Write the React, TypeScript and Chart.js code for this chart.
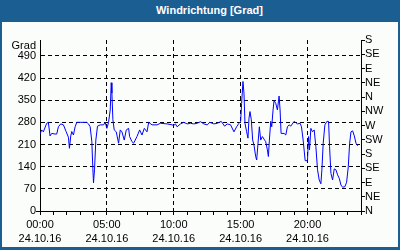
import React, { useEffect, useRef } from 'react';
import { Chart, registerables } from 'chart.js';

Chart.register(...registerables);

const chartTitle = 'Windrichtung [Grad]';
const unitLabel = 'Grad';
const dateLabel = '24.10.16';
const timeLabels = ['00:00', '05:00', '10:00', '15:00', '20:00'];
const compassLabels = ['N', 'NE', 'E', 'SE', 'S', 'SW', 'W', 'NW', 'N', 'NE', 'E', 'SE', 'S'];

const hours = [
  0.0, 0.125, 0.25, 0.5, 0.625, 0.75, 0.875, 1.125, 1.25, 1.375, 1.55, 1.75, 1.95, 2.125, 2.2, 2.3,
  2.375, 2.5, 2.625, 2.75, 3.0, 3.5, 3.625, 3.75, 3.875, 3.95, 4.0, 4.075, 4.175, 4.3, 4.5, 4.75,
  4.875, 5.0, 5.125, 5.25, 5.325, 5.375, 5.45, 5.55, 5.7, 5.875, 6.0, 6.125, 6.3, 6.45, 6.625, 6.7,
  6.875, 7.0, 7.25, 7.45, 7.625, 7.8, 8.0, 8.125, 8.375, 8.75, 9.0, 9.5, 9.875, 10.0, 10.125, 10.25,
  10.5, 10.75, 11.0, 11.25, 11.5, 11.75, 12.0, 12.25, 12.5, 12.7, 13.0, 13.25, 13.55, 13.8, 14.0,
  14.25, 14.5, 14.7, 14.875, 15.0, 15.075, 15.175, 15.25, 15.325, 15.45, 15.55, 15.625, 15.7, 15.8,
  15.9, 16.0, 16.125, 16.2, 16.3, 16.4, 16.5, 16.625, 16.75, 16.875, 17.0, 17.075, 17.15, 17.25,
  17.325, 17.425, 17.5, 17.625, 17.75, 17.875, 17.95, 18.025, 18.25, 18.375, 18.5, 18.625, 18.75,
  19.0, 19.25, 19.45, 19.55, 19.675, 19.825, 20.0, 20.075, 20.15, 20.25, 20.375, 20.5, 20.625,
  20.75, 20.875, 21.0, 21.075, 21.175, 21.3, 21.45, 21.575, 21.65, 21.75, 21.875, 22.0, 22.125,
  22.25, 22.375, 22.5, 22.625, 22.8, 22.925, 23.05, 23.15, 23.25, 23.375, 23.5, 23.625, 23.75,
];

const degrees = [
  243, 256, 250, 277, 280, 237, 245, 243, 243, 266, 275, 272, 251, 233, 198, 237,
  251, 240, 266, 280, 280, 280, 275, 266, 219, 135, 89, 130, 224, 268, 272, 272,
  280, 261, 280, 319, 405, 372, 288, 256, 250, 214, 256, 250, 224, 256, 261, 235,
  219, 214, 235, 256, 240, 261, 250, 280, 272, 272, 277, 275, 272, 270, 275, 266,
  275, 280, 275, 277, 275, 277, 282, 275, 272, 280, 275, 277, 283, 268, 275,
  272, 250, 266, 277, 283, 340, 409, 372, 277, 250, 230, 293, 314, 288,
  224, 208, 172, 161, 214, 266, 224, 235, 227, 219, 193, 172, 224, 283,
  266, 319, 349, 340, 319, 363, 319, 245, 245, 240, 266, 272, 268,
  283, 275, 277, 266, 224, 159, 159, 235, 193, 261, 250, 256, 203,
  130, 98, 86, 130, 214, 272, 283, 283, 203, 119, 98, 133, 130,
  114, 103, 82, 75, 77, 91, 140, 214, 250, 253, 237, 214, 206,
];

const Y_MAX = 540;
const LEFT_STEP = 70;
const RIGHT_STEP = 45;
const X_MAX = 24;
const FONT = 'Liberation Sans';

const gradLabelPlugin = {
  id: 'gradLabel',
  afterDraw(chart: any) {
    const { ctx, chartArea } = chart;
    const ys = chart.scales.y;
    ctx.save();
    ctx.font = `11px "${FONT}"`;
    ctx.fillStyle = '#000';
    ctx.textAlign = 'right';
    ctx.textBaseline = 'middle';
    ctx.fillText(unitLabel, ys.right - 4, chartArea.top + 6);
    ctx.restore();
  },
};

export default function App() {
  const canvasRef = useRef<HTMLCanvasElement | null>(null);

  useEffect(() => {
    if (!canvasRef.current) return;
    const points = hours.map((h, i) => ({ x: h, y: degrees[i] }));
    const chart = new Chart(canvasRef.current, {
      type: 'line',
      data: {
        datasets: [
          {
            data: points,
            borderColor: '#0000ff',
            borderWidth: 1,
            pointRadius: 0,
            tension: 0,
            fill: false,
          },
        ],
      },
      plugins: [gradLabelPlugin],
      options: {
        animation: false,
        responsive: true,
        maintainAspectRatio: false,
        layout: { padding: { top: 18, left: 0, right: 0, bottom: 0 } },
        font: { family: FONT, size: 11 },
        plugins: {
          legend: { display: false },
          tooltip: { enabled: false },
          title: { display: false },
        },
        scales: {
          x: {
            type: 'linear',
            min: 0,
            max: X_MAX,
            afterFit: (s: any) => {
              s.height = 36;
            },
            ticks: {
              stepSize: 1,
              autoSkip: false,
              maxRotation: 0,
              padding: 3,
              color: '#000',
              font: { family: FONT, size: 11, lineHeight: 1.27 },
              callback: (v: any) => {
                const n = Number(v);
                if (n % 5 === 0 && n / 5 < timeLabels.length) return [timeLabels[n / 5], dateLabel];
                return '';
              },
            },
            grid: {
              drawOnChartArea: true,
              drawTicks: true,
              tickLength: 4,
              tickColor: '#000',
              color: (ctx: any) => {
                const v = ctx.tick ? ctx.tick.value : 0;
                return v % 5 === 0 && v !== 0 && v !== X_MAX ? '#000' : 'rgba(0,0,0,0)';
              },
            },
            border: { display: true, color: '#000', width: 1, dash: [4, 3] },
          },
          y: {
            type: 'linear',
            position: 'left',
            min: 0,
            max: Y_MAX,
            afterFit: (s: any) => {
              s.width = 38;
            },
            ticks: {
              stepSize: LEFT_STEP,
              autoSkip: false,
              padding: 0,
              color: '#000',
              font: { family: FONT, size: 11 },
              callback: (v: any) => (Number(v) >= Y_MAX ? '' : String(v)),
            },
            grid: {
              drawOnChartArea: true,
              drawTicks: true,
              tickLength: 4,
              tickColor: (ctx: any) => (ctx.tick && ctx.tick.value === 0 ? '#000' : 'rgba(0,0,0,0)'),
              color: (ctx: any) => {
                const v = ctx.tick ? ctx.tick.value : 0;
                return v === 0 || v >= Y_MAX ? 'rgba(0,0,0,0)' : '#000';
              },
            },
            border: { display: true, color: '#000', width: 1, dash: [4, 3] },
          },
          y2: {
            type: 'linear',
            position: 'right',
            min: 0,
            max: Y_MAX,
            afterFit: (s: any) => {
              s.width = 37;
            },
            ticks: {
              stepSize: RIGHT_STEP,
              autoSkip: false,
              padding: 0,
              color: '#000',
              font: { family: FONT, size: 11 },
              callback: (v: any) => compassLabels[Math.round(Number(v) / RIGHT_STEP)] ?? '',
            },
            grid: {
              drawOnChartArea: false,
              drawTicks: true,
              tickLength: 4,
              tickColor: '#000',
            },
            border: { display: true, color: '#000', width: 1 },
          },
        },
      },
    });
    return () => chart.destroy();
  }, []);

  return (
    <div
      style={{
        position: 'absolute',
        left: 0,
        top: 0,
        width: 400,
        height: 250,
        background: '#1b5e92',
        overflow: 'hidden',
      }}
    >
      <div
        style={{
          height: 22,
          lineHeight: '21px',
          color: '#ffffff',
          fontFamily: FONT,
          fontWeight: 'bold',
          fontSize: 11,
          textAlign: 'center',
          paddingLeft: 19,
          boxSizing: 'border-box',
        }}
      >
        {chartTitle}
      </div>
      <div
        style={{
          position: 'absolute',
          left: 2,
          top: 22,
          width: 396,
          height: 225,
          background: '#fbfdfb',
        }}
      >
        <canvas ref={canvasRef} />
      </div>
    </div>
  );
}
